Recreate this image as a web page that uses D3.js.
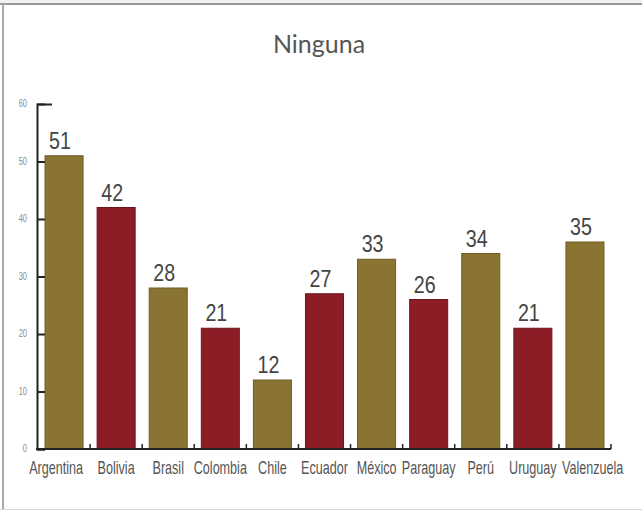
<!DOCTYPE html>
<html>
<head>
<meta charset="utf-8">
<script src="https://cdn.jsdelivr.net/npm/d3@7"></script>
<style>
  html, body { margin: 0; padding: 0; background: #fff; }
  svg { display: block; }
</style>
</head>
<body>
<svg id="chart" width="642" height="512"></svg>
<script>
const title = "Ninguna";
const categories = ["Argentina", "Bolivia", "Brasil", "Colombia", "Chile", "Ecuador", "México", "Paraguay", "Perú", "Uruguay", "Valenzuela"];
const values = [51, 42, 28, 21, 12, 27, 33, 26, 34, 21, 36];
const valueLabels = ["51", "42", "28", "21", "12", "27", "33", "26", "34", "21", "35"];
const colorGroup = ["gold", "red", "gold", "red", "gold", "red", "gold", "red", "gold", "red", "gold"];
const yTicks = [0, 10, 20, 30, 40, 50, 60];

const palette = { gold: "#8a7431", red: "#8c1d26" };
const strokePalette = { gold: "#6e5c25", red: "#6e141c" };

const svg = d3.select("#chart");

// frame
svg.append("rect").attr("x", 0).attr("y", 0).attr("width", 642).attr("height", 3).attr("fill", "#f2f2f2");
svg.append("line").attr("x1", 0).attr("x2", 642).attr("y1", 4).attr("y2", 4)
  .attr("stroke", "#9a9a9a").attr("stroke-width", 2);
svg.append("line").attr("x1", 3).attr("x2", 3).attr("y1", 4).attr("y2", 510)
  .attr("stroke", "#a8a8a8").attr("stroke-width", 2);
svg.append("line").attr("x1", 0).attr("x2", 642).attr("y1", 509.5).attr("y2", 509.5)
  .attr("stroke", "#d8d8d8").attr("stroke-width", 1);

const x = d3.scaleBand().domain(categories).range([38, 611]).paddingInner(0.27).paddingOuter(0.135);
const y = d3.scaleLinear().domain([0, 60]).range([449, 104]);

// title
svg.append("text").attr("x", 319).attr("y", 53).attr("text-anchor", "middle")
  .attr("font-family", "Lato, 'Open Sans', sans-serif").attr("font-size", 25)
  .attr("fill", "#555").text(title);

// bars
svg.selectAll("rect.bar").data(categories).enter().append("rect")
  .attr("class", "bar")
  .attr("x", d => x(d))
  .attr("y", (d, i) => y(values[i]))
  .attr("width", x.bandwidth())
  .attr("height", (d, i) => y(0) - y(values[i]))
  .attr("fill", (d, i) => palette[colorGroup[i]])
  .attr("stroke", (d, i) => strokePalette[colorGroup[i]])
  .attr("stroke-width", 1);

// value labels (condensed via horizontal scale)
svg.selectAll("g.val").data(categories).enter().append("g")
  .attr("class", "val")
  .attr("transform", (d, i) => `translate(${x(d) + x.bandwidth() / 2 - 4},${y(values[i]) - 7}) scale(0.82,1)`)
  .append("text")
  .attr("text-anchor", "middle")
  .attr("font-family", "'Liberation Sans', Arial, sans-serif")
  .attr("font-size", 24)
  .attr("fill", "#444")
  .text((d, i) => valueLabels[i]);

// y axis
const yAxis = d3.axisRight(y).tickValues(yTicks).tickSize(8).tickFormat("");
const yg = svg.append("g").attr("transform", "translate(37,0)").call(yAxis);
yg.select(".domain").attr("stroke", "#222").attr("stroke-width", 2);
yg.selectAll(".tick line").attr("stroke", "#222").attr("stroke-width", 2)
  .attr("x2", d => d === 60 ? 15 : 8);

// y tick labels
svg.selectAll("g.ylab").data(yTicks).enter().append("g")
  .attr("class", "ylab")
  .attr("transform", d => `translate(27,${y(d) + 3}) scale(0.75,1)`)
  .append("text")
  .attr("text-anchor", "end")
  .attr("font-family", "'Liberation Sans', Arial, sans-serif")
  .attr("font-size", 10)
  .attr("fill", "#8a8a8a")
  .text(d => d);

// baseline
svg.append("line").attr("x1", 36).attr("x2", 611).attr("y1", y(0)).attr("y2", y(0))
  .attr("stroke", "#222").attr("stroke-width", 2);

// baseline boundary ticks
const step = x.step();
svg.selectAll("line.btick").data(categories).enter().append("line")
  .attr("class", "btick")
  .attr("x1", d => x(d) + x.bandwidth() + (step - x.bandwidth()) / 2)
  .attr("x2", d => x(d) + x.bandwidth() + (step - x.bandwidth()) / 2)
  .attr("y1", y(0)).attr("y2", y(0) - 5)
  .attr("stroke", "#222").attr("stroke-width", 1.5);

// category labels (condensed; end labels pushed outward)
const nCat = categories.length;
svg.selectAll("g.cat").data(categories).enter().append("g")
  .attr("class", "cat")
  .attr("transform", (d, i) => {
    let cx = x(d) + x.bandwidth() / 2;
    if (i === 0) cx = x(d) + x.bandwidth();
    if (i === nCat - 1) cx = x(d) - 4;
    return `translate(${cx},474) scale(0.7,1)`;
  })
  .append("text")
  .attr("text-anchor", (d, i) => i === 0 ? "end" : (i === nCat - 1 ? "start" : "middle"))
  .attr("font-family", "'Liberation Sans', Arial, sans-serif")
  .attr("font-size", 18)
  .attr("fill", "#555")
  .text(d => d);
</script>
</body>
</html>
